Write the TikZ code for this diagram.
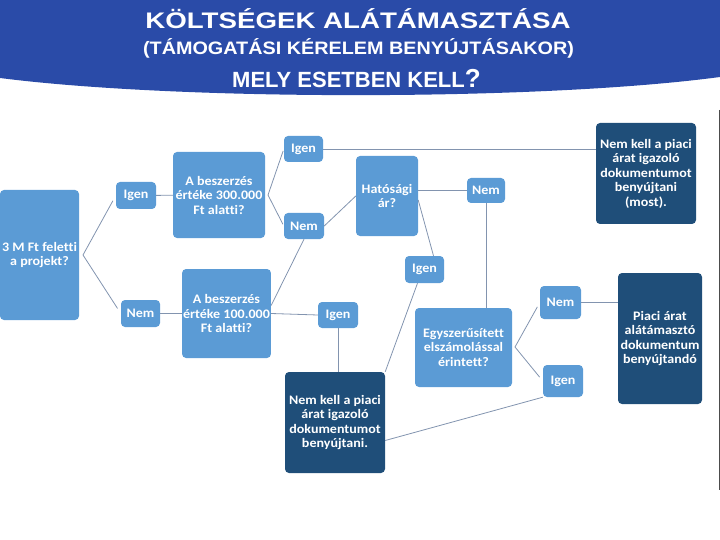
\documentclass[tikz,border=0pt]{standalone}
\usepackage{fontspec}
\setmainfont{Carlito}[FakeStretch=1.08, Ligatures=NoCommon]
\newfontfamily\cimfont{Liberation Sans}[FakeStretch=1.23]
\newfontfamily\alcimfont{Liberation Sans}[FakeStretch=1.10]
\newfontfamily\kerdesfont{Liberation Sans}

\definecolor{fejlec}{RGB}{42,75,168}
\definecolor{vilagos}{RGB}{91,155,213}
\definecolor{sotet}{RGB}{31,78,121}
\definecolor{vonal}{RGB}{130,148,175}

\begin{document}
\begin{tikzpicture}[x=1pt, y=-1pt,
    doboz/.style={rectangle, rounded corners=4pt, fill=vilagos, text=white, align=center, inner sep=1pt,
                  font=\fontsize{13}{14.5}\selectfont\bfseries},
    eredmeny/.style={doboz, fill=sotet},
    cim/.style={text=white, anchor=base, inner sep=0pt},
    kapcsolo/.style={draw=vonal, line width=0.8pt}]

              \useasboundingbox (0,0) rectangle (720,540);
              \fill[fejlec] (0,0) -- (720,0) -- (720,77) .. controls (540,101) and (180,101) .. (0,78) -- cycle;
              \draw[black!70, line width=0.9pt] (719,110) -- (719,490);

              \node [cim] (cim1) at (358,29) {\cimfont\bfseries\fontsize{22.5}{24}\selectfont KÖLTSÉGEK ALÁTÁMASZTÁSA};
              \node [cim] (cim2) at (358.5,55) {\alcimfont\bfseries\fontsize{18}{20}\selectfont (TÁMOGATÁSI KÉRELEM BENYÚJTÁSAKOR)};
              \node [cim] (cim3) at (356.5,88) {\kerdesfont\bfseries\fontsize{22}{24}\selectfont MELY ESETBEN KELL{\fontsize{26}{28}\selectfont ?}};

              \node [doboz, minimum width=79pt, minimum height=130pt] (projekt) at (39.5,255) {3 M Ft feletti\\a projekt?};
              \node [doboz, minimum width=40pt, minimum height=27pt] (igen1) at (136,195.5) {Igen};
              \node [doboz, minimum width=39pt, minimum height=27pt] (nem1) at (140.5,313.5) {Nem};
              \node [doboz, minimum width=92pt, minimum height=86pt] (ertek300) at (219,195) {A beszerzés\\értéke 300.000\\Ft alatti?};
              \node [doboz, minimum width=87pt, minimum height=89pt] (ertek100) at (226.5,313.5) {A beszerzés\\értéke 100.000\\Ft alatti?};
              \node [doboz, minimum width=39pt, minimum height=26pt] (igen2) at (303.5,149) {Igen};
              \node [doboz, minimum width=40pt, minimum height=26pt] (nem2) at (304,226) {Nem};
              \node [doboz, minimum width=62pt, minimum height=80pt] (hatosagi) at (387,196) {Hatósági\\ár?};
              \node [doboz, minimum width=38pt, minimum height=25pt] (nem3) at (486,190.5) {Nem};
              \node [doboz, minimum width=39pt, minimum height=27pt] (igen3) at (424.5,269.5) {Igen};
              \node [doboz, minimum width=40pt, minimum height=26pt] (igen4) at (338,315) {Igen};
              \node [doboz, minimum width=97pt, minimum height=79pt] (egyszerusitett) at (463.5,347.5) {Egyszerűsített\\elszámolással\\érintett?};
              \node [doboz, minimum width=41pt, minimum height=33pt] (nem4) at (560.5,302.5) {Nem};
              \node [doboz, minimum width=40pt, minimum height=32pt] (igen5) at (563,381) {Igen};

              \node [eredmeny, minimum width=100pt, minimum height=101pt] (nemkell) at (335,422.5) {Nem kell a piaci\\árat igazoló\\dokumentumot\\benyújtani.};
              \node [eredmeny, minimum width=100pt, minimum height=101pt] (nemkellmost) at (646,173.5) {Nem kell a piaci\\árat igazoló\\dokumentumot\\benyújtani\\(most).};
              \node [eredmeny, minimum width=84pt, minimum height=131pt] (piaci) at (660,338.5) {Piaci árat\\alátámasztó\\dokumentum\\benyújtandó};

              \coordinate (elag1) at (83,255);
              \coordinate (elag2) at (268,195);
              \coordinate (elag3) at (515,347);

              \draw [kapcsolo, shorten >=6pt] (elag1) -- (igen1.west);
              \draw [kapcsolo, shorten >=6pt] (elag1) -- (nem1.west);
              \draw [kapcsolo] (igen1) -- (ertek300);
              \draw [kapcsolo] (nem1) -- (ertek100);
              \draw [kapcsolo, shorten >=2pt] (elag2) -- (igen2.west);
              \draw [kapcsolo, shorten >=2pt] (elag2) -- (nem2.west);
              \draw [kapcsolo] (igen2.east) -- (igen2.east -| nemkellmost.west);
              \draw [kapcsolo] (nem2.east) -- (hatosagi.west);
              \draw [kapcsolo] (nem2.south) -- ([yshift=8pt]ertek100.east);
              \draw [kapcsolo] (ertek100.east) -- (igen4.west);
              \draw [kapcsolo] (nem3.west) -- (nem3.west -| hatosagi.east);
              \draw [kapcsolo] ([yshift=-4pt]hatosagi.east) -- ([xshift=9pt]igen3.north);
              \draw [kapcsolo] (nem3.south) -- (nem3.south |- egyszerusitett.north);
              \draw [kapcsolo] ([xshift=-7pt]igen3.south) -- (nemkell.north east);
              \draw [kapcsolo] (igen4.south) -- (igen4.south |- nemkell.north);
              \draw [kapcsolo, shorten >=5pt] (elag3) -- (nem4.west);
              \draw [kapcsolo, shorten >=5pt] (elag3) -- (igen5.west);
              \draw [kapcsolo] (nem4.east) -- (nem4.east -| piaci.west);
              \draw [kapcsolo] (igen5.south west) -- ([yshift=-18pt]nemkell.east);

            \end{tikzpicture}
\end{document}
